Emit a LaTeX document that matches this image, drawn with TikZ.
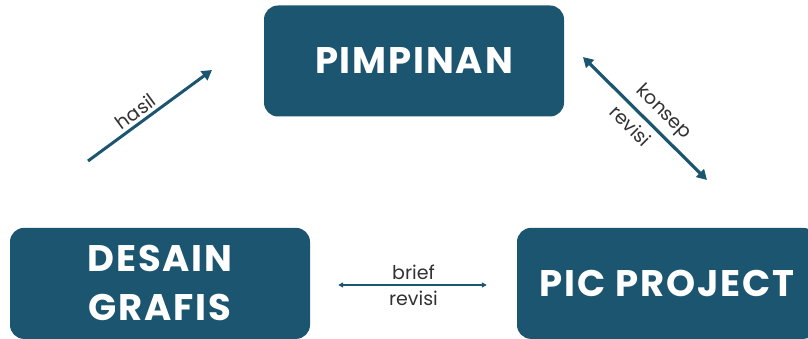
\documentclass[tikz,border=0pt]{standalone}
\usepackage{fontspec}
\setmainfont{Poppins}
\usetikzlibrary{positioning,arrows.meta}
\definecolor{teal}{RGB}{27,85,111}
\definecolor{labelgray}{RGB}{50,50,50}
\begin{document}
\begin{tikzpicture}[x=1pt,y=1pt]
        \tikzset{
            box/.style={fill=teal,rounded corners=14pt,minimum width=300pt,minimum height=111pt,text=white,align=center,font=\fontsize{37}{49}\selectfont\bfseries\addfontfeature{LetterSpace=5}},
            flow/.style={-{Triangle[length=10pt,width=11pt]}, line width=3pt, color=teal},
            both/.style={{Triangle[length=10pt,width=11pt]}-{Triangle[length=10pt,width=11pt]}, line width=3.2pt, color=teal},
            thin/.style={{Triangle[length=5pt,width=5pt]}-{Triangle[length=5pt,width=5pt]}, line width=1.4pt, color=teal},
            lbl/.style={text=labelgray,font=\fontsize{19}{22}\selectfont,inner sep=2pt}
        }
        \useasboundingbox (0,0) rectangle (808,339);
        \clip (0,0) rectangle (808,339);
        \node[box] (pimpinan) at (414,278) {PIMPINAN};
        \node[box] (desain) [below=111pt of pimpinan, xshift=-254pt] {DESAIN\\GRAFIS};
        \node[box] (pic) [below=111pt of pimpinan, xshift=253pt] {PIC PROJECT};
        \coordinate (hasilA) at (88,178);
        \coordinate (hasilB) at (212,269);
        \coordinate (konsepA) at (583,282);
        \coordinate (konsepB) at (707,159);
        \draw[flow] (hasilA) -- node[lbl, above=1pt, sloped, pos=0.44] {hasil} (hasilB);
        \draw[both] (konsepA) -- node[lbl, above=4pt, sloped, pos=0.55] {konsep}
            node[lbl, below=4pt, sloped, pos=0.47] {revisi} (konsepB);
        \draw[thin, shorten <=28pt, shorten >=30pt] (desain.east |- 0,54) -- node[lbl, above=3pt] {brief}
            node[lbl, below=3pt] {revisi} (pic.west |- 0,54);
    \end{tikzpicture}
\end{document}
